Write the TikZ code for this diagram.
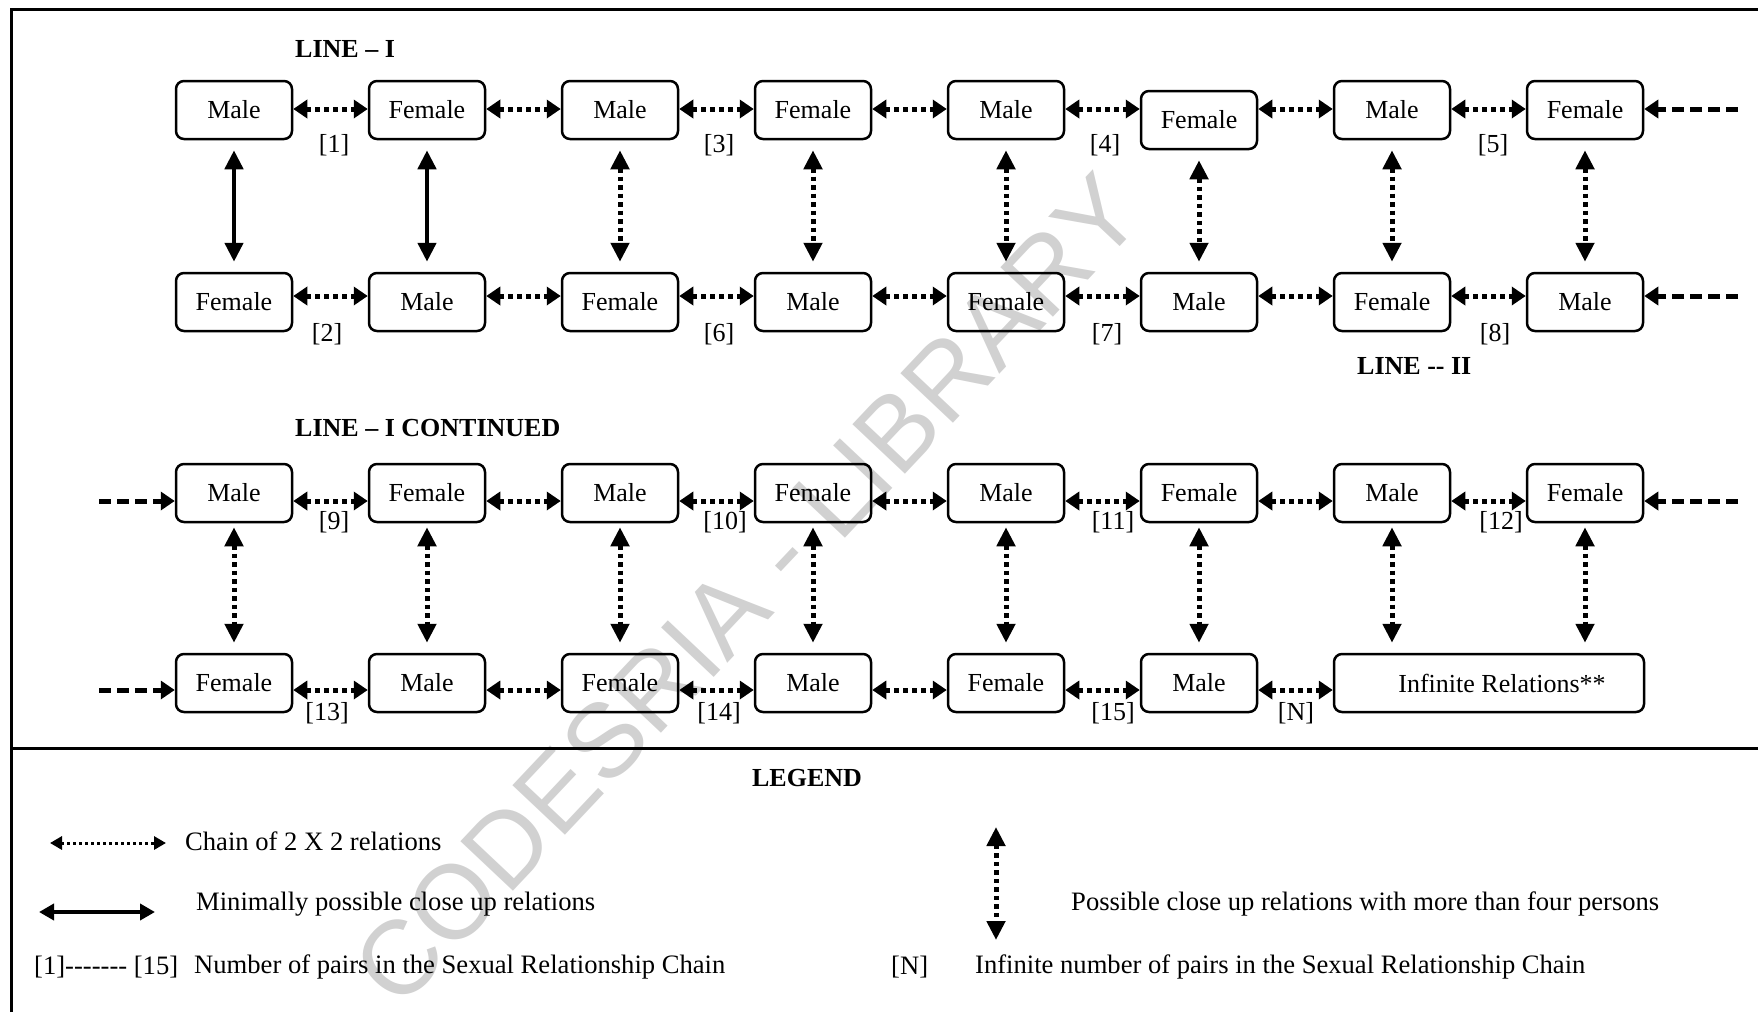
\documentclass[tikz,border=0pt]{standalone}
\usepackage{fontspec}
\setmainfont{Liberation Serif}
\setsansfont{Liberation Sans}
\usetikzlibrary{arrows.meta}
\newcommand\diagfs{\fontsize{26}{30}\selectfont}
\newcommand\legfs{\fontsize{26.6}{30}\selectfont}
\newcommand\hy{\mbox{-}}
\begin{document}
\begin{tikzpicture}[x=1pt,y=-1pt,
  pbox/.style={draw, line width=2.5pt, rounded corners=8pt, minimum width=116pt, minimum height=58pt, inner sep=0pt, font=\diagfs},
  hdot/.style={line width=5pt, dash pattern=on 5pt off 4pt, {Triangle[length=14pt,width=18pt]}-{Triangle[length=14pt,width=18pt]}},
  vdot/.style={line width=5pt, dash pattern=on 4.5pt off 4pt, {Triangle[length=19pt,width=18pt]}-{Triangle[length=19pt,width=18pt]}},
  vsolid/.style={line width=4.5pt, {Triangle[length=19pt,width=18pt]}-{Triangle[length=19pt,width=18pt]}},
  dasharr/.style={line width=5pt, dash pattern=on 12pt off 6pt, -{Triangle[length=14pt,width=18pt]}},
  lbl/.style={font=\diagfs, inner sep=0pt},
  txt/.style={font=\legfs, inner sep=0pt, anchor=west},
  head/.style={font=\diagfs\bfseries, inner sep=0pt, anchor=west},
  frame/.style={line width=3pt},
  wmark/.style={font=\sffamily\fontsize{105}{110}\selectfont, text=black!18, inner sep=0pt, anchor=base west, transform shape}
]
\useasboundingbox (0,0) rectangle (1758,1012);

% watermark, letter by letter along a rotated baseline
\begin{scope}[shift={(746,589)}, rotate=46.7]
  \foreach \k/\c/\x in {1/C/-545.6, 2/O/-469.8, 3/D/-388.1, 4/E/-312.3, 5/S/-242.3, 6/R/-172.2, 7/I/-96.4, 8/A/-67.2, 9/-/32.0, 10/L/96.2, 11/I/154.5, 12/B/183.7, 13/R/253.8, 14/A/329.6, 15/R/399.6, 16/Y/475.4}
    \node[wmark] (wm\k) at (\x,37.6) {\c};
\end{scope}

% frame
\draw[frame] (11,1012) -- (11,9) -- (1758,9);
\draw[frame] (11,748) -- (1758,748);

% headings
\node[head] (h1) at (295,49) {LINE – I};
\node[head] (h2) at (1357,366) {LINE \hy\hy{} II};
\node[head] (h3) at (295,428) {LINE – I CONTINUED};
\node[font=\diagfs\bfseries, inner sep=0pt] (hl) at (807,778) {LEGEND};

% boxes
\foreach \i/\t/\yy in {1/Male/110,2/Female/110,3/Male/110,4/Female/110,5/Male/110,6/Female/120,7/Male/110,8/Female/110}
  \node[pbox] (a\i) at ({234+193*(\i-1)},\yy) {\t};
\foreach \i/\t in {1/Female,2/Male,3/Female,4/Male,5/Female,6/Male,7/Female,8/Male}
  \node[pbox] (b\i) at ({234+193*(\i-1)},302) {\t};
\foreach \i/\t in {1/Male,2/Female,3/Male,4/Female,5/Male,6/Female,7/Male,8/Female}
  \node[pbox] (c\i) at ({234+193*(\i-1)},493) {\t};
\foreach \i/\t in {1/Female,2/Male,3/Female,4/Male,5/Female,6/Male}
  \node[pbox] (d\i) at ({234+193*(\i-1)},683) {\t};
\node[pbox, minimum width=310pt] (inf) at (1489,683) {\hspace*{26pt}Infinite Relations**};

% reference heights of horizontal arrows
\coordinate (y1) at (0,109);
\coordinate (y2) at (0,296);
\coordinate (y3) at (0,501);
\coordinate (y4) at (0,690);

% horizontal chains
\foreach \i [evaluate=\i as \j using int(\i+1)] in {1,...,7} {
  \draw[hdot] (a\i.east |- y1) -- (a\j.west |- y1);
  \draw[hdot] (b\i.east |- y2) -- (b\j.west |- y2);
  \draw[hdot] (c\i.east |- y3) -- (c\j.west |- y3);
}
\foreach \i [evaluate=\i as \j using int(\i+1)] in {1,...,5}
  \draw[hdot] (d\i.east |- y4) -- (d\j.west |- y4);
\draw[hdot] (d6.east |- y4) -- (inf.west |- y4);

% incoming dashed arrows
\coordinate (ra) at (1738,109);
\coordinate (rb) at (1738,296);
\coordinate (rc) at (1738,501);
\coordinate (lc) at (99,501);
\coordinate (ld) at (99,690);
\draw[dasharr] (ra) -- (a8.east |- ra);
\draw[dasharr] (rb) -- (b8.east |- rb);
\draw[dasharr] (rc) -- (c8.east |- rc);
\draw[dasharr] (lc) -- (c1.west |- lc);
\draw[dasharr] (ld) -- (d1.west |- ld);

% vertical relations
\draw[vsolid, shorten <=10pt, shorten >=10pt] (a1) -- (b1);
\draw[vsolid, shorten <=10pt, shorten >=10pt] (a2) -- (b2);
\foreach \i in {3,...,8}
  \draw[vdot, shorten <=10pt, shorten >=10pt] (a\i) -- (b\i);
\foreach \i in {1,...,6}
  \draw[vdot, shorten <=4pt, shorten >=10pt] (c\i) -- (d\i);
\draw[vdot, shorten <=4pt, shorten >=10pt] (c7.south) -- (c7.south |- inf.north);
\draw[vdot, shorten <=4pt, shorten >=10pt] (c8.south) -- (c8.south |- inf.north);

% pair labels
\foreach \n/\x in {1/334,3/719,4/1105,5/1493} \node[lbl] (p\n) at (\x,145) {[\n]};
\foreach \n/\x in {2/327,6/719,7/1107,8/1495} \node[lbl] (p\n) at (\x,334) {[\n]};
\foreach \n/\x in {9/334,10/725,11/1113,12/1501} \node[lbl] (p\n) at (\x,522) {[\n]};
\foreach \n/\x in {13/327,14/719,15/1113} \node[lbl] (p\n) at (\x,713) {[\n]};
\node[lbl] (pN) at (1296,713) {[N]};

% legend
\coordinate (l1a) at (50,843);
\coordinate (l1b) at (166,843);
\draw[line width=3pt, dash pattern=on 3pt off 3pt, {Triangle[length=12pt,width=13pt]}-{Triangle[length=12pt,width=13pt]}] (l1a) -- (l1b);
\node[txt] (t1) at (185,841) {Chain of 2 X 2 relations};
\coordinate (l2a) at (39,912);
\coordinate (l2b) at (155,912);
\draw[line width=4pt, {Triangle[length=15pt,width=16pt]}-{Triangle[length=15pt,width=16pt]}] (l2a) -- (l2b);
\node[txt] (t2) at (196,904) {Minimally possible close up relations};
\node[txt] (t3a) at (34,967) {[1]\hy\hy\hy\hy\hy\hy\hy{} [15]};
\node[txt] (t3) at (194,967) {Number of pairs in the Sexual Relationship Chain};
\coordinate (l4a) at (996,827);
\coordinate (l4b) at (996,940);
\draw[vdot] (l4a) -- (l4b);
\node[txt] (t4) at (1071,904) {Possible close up relations with more than four persons};
\node[txt] (t5a) at (891,967) {[N]};
\node[txt] (t5) at (975,967) {Infinite number of pairs in the Sexual Relationship Chain};
\end{tikzpicture}
\end{document}
